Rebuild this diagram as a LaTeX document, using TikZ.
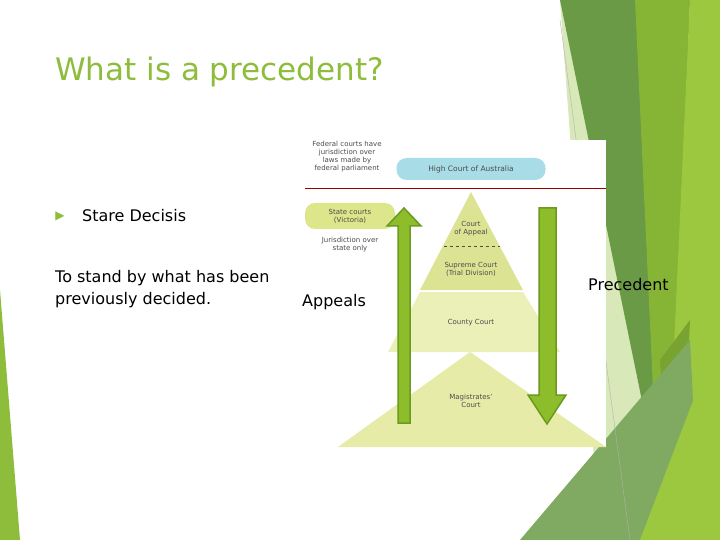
\documentclass[tikz,border=0pt]{standalone}
\usepackage{fontspec}
\setmainfont{DejaVu Sans}
\usetikzlibrary{shapes.arrows}
\definecolor{tgreen}{HTML}{8DBD3A}
\definecolor{dgreen}{HTML}{6A9A45}
\definecolor{mgreen}{HTML}{86B535}
\definecolor{lgreen}{HTML}{9CC83F}
\definecolor{pale}{HTML}{D8E8B8}
\definecolor{agreen}{HTML}{8DBD2A}
\definecolor{aedge}{HTML}{6A9A20}
\definecolor{pyr}{HTML}{E6ECA8}
\definecolor{pyrtop}{HTML}{DCE494}
\definecolor{hc}{HTML}{A8DCE6}
\definecolor{sc}{HTML}{DDE68A}
\tikzset{
  small/.style={font=\fontsize{7}{8}\selectfont, text=black!70, align=center},
  body/.style={font=\fontsize{16}{19}\selectfont, anchor=west, inner sep=0},
  arr/.style={fill=agreen, draw=aedge, line width=1.5pt}
}
\begin{document}
\begin{tikzpicture}[x=1pt,y=-1pt]
\useasboundingbox (0,0) rectangle (720,540);
\fill[white] (0,0) rectangle (720,540);
% right decoration
\fill[pale] (560,0) -- (720,0) -- (720,540) -- (600,540) -- cycle;
\fill[dgreen] (560,0) -- (660,0) -- (680,400) -- (650,440) -- cycle;
\fill[mgreen] (635,0) -- (690,0) -- (670,540) -- (660,540) -- cycle;
\fill[lgreen] (690,0) -- (720,0) -- (720,540) -- (665,540) -- cycle;
\fill[mgreen!90!black] (660,360) -- (690,320) -- (680,540) -- (670,540) -- cycle;
\fill[dgreen!85!white] (520,540) -- (690,340) -- (700,540) -- cycle;
\fill[lgreen] (640,540) -- (720,330) -- (720,540) -- cycle;
\draw[gray!60, line width=0.4pt] (560,20) -- (630,540);
% left sliver
\fill[tgreen] (0,290) -- (20,540) -- (0,540) -- cycle;
% title and text
\node[anchor=west, text=tgreen, font=\fontsize{31}{36}\selectfont, inner sep=0] (title) at (55,72) {What is a precedent?};
\node[text=tgreen, font=\fontsize{12}{12}\selectfont, inner sep=0] (bul) at (60,216) {▶};
\node[body] (sd) at (82,216) {Stare Decisis};
\node[body, align=left, anchor=north west, font=\fontsize{16}{22}\selectfont] (def) at (55,270) {To stand by what has been\\previously decided.};
% picture
\fill[white] (305,140) rectangle (606,447);
\fill[pyr] (338,447) -- (470,352) -- (606,447) -- cycle;
\fill[pyr!80!white] (388,352) -- (420,292) -- (523,292) -- (560,352) -- cycle;
\fill[pyrtop] (420,290) -- (471,192) -- (523,290) -- cycle;
\draw[dashed, black!70, line width=0.6pt] (444,246) -- (500,246);
\draw[red!60!black, line width=0.5pt] (305,188) -- (606,188);
\node[small] (fed) at (347,157) {Federal courts have\\jurisdiction over\\laws made by\\federal parliament};
\node[fill=hc, rounded corners=10pt, minimum width=149pt, minimum height=22pt, font=\fontsize{7.5}{8}\selectfont, text=black!70] (high) at (471,169) {High Court of Australia};
\node[fill=sc, rounded corners=10pt, minimum width=90pt, minimum height=26pt, small] (state) at (350,216) {State courts\\(Victoria)};
\node[small] (jur) at (350,245) {Jurisdiction over\\state only};
\node[small] (coa) at (471,229) {Court\\of Appeal};
\node[small] (sup) at (471,269) {Supreme Court\\(Trial Division)};
\node[small] (cty) at (471,323) {County Court};
\node[small] (mag) at (471,401) {Magistrates'\\Court};
% arrows
\draw[arr] (398,423) -- (398,226) -- (387,226) -- (404,208) -- (421,226) -- (410,226) -- (410,423) -- cycle;
\draw[arr] (539,208) -- (556,208) -- (556,395) -- (566,395) -- (547,424) -- (528,395) -- (539,395) -- cycle;
\node[body] (app) at (302,302) {Appeals};
\node[body] (prec) at (588,285) {Precedent};
\end{tikzpicture}
\end{document}
